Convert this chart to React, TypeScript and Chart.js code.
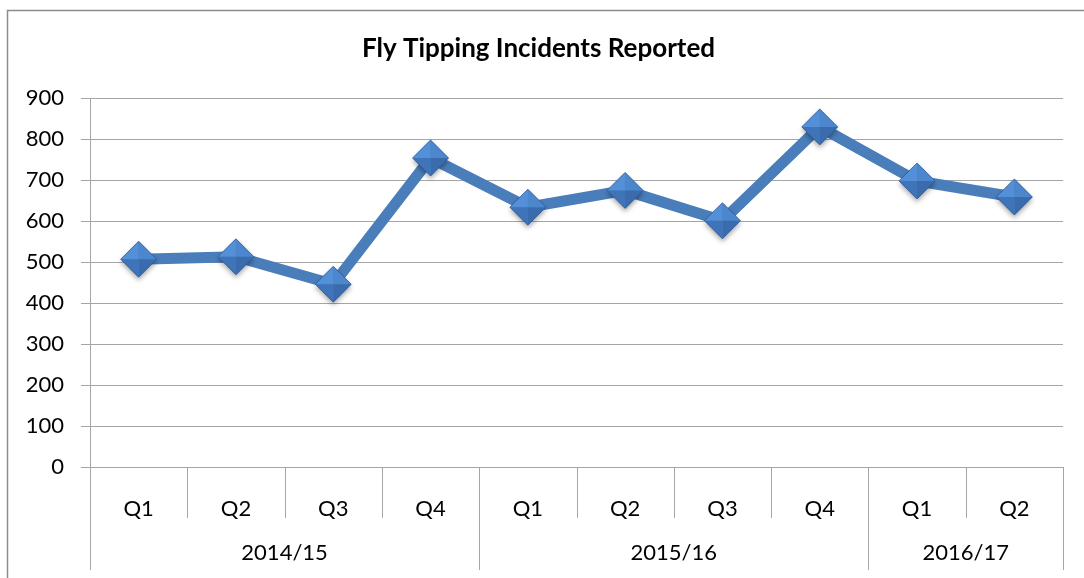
import React, { useEffect, useRef } from 'react';
import { Chart, registerables } from 'chart.js';

Chart.register(...registerables);

const quarters = ['Q1', 'Q2', 'Q3', 'Q4', 'Q1', 'Q2', 'Q3', 'Q4', 'Q1', 'Q2'];
const years = ['2014/15', '2015/16', '2016/17'];
const yearSpans = [4, 4, 2];
const incidents = [507, 513, 446, 754, 634, 675, 601, 830, 698, 659];
const yMin = 0;
const yMax = 900;
const yStep = 100;
const titleText = 'Fly Tipping Incidents Reported';

const FONT = 'Lato, "Open Sans", sans-serif';
const GRID = '#a6a6a6';
const LABEL_SIZE = 22;

const frame = {
  id: 'frame',
  beforeDraw(chart: any) {
    const { ctx, width, height } = chart;
    ctx.save();
    ctx.fillStyle = '#fff';
    ctx.fillRect(0, 0, width, height);
    ctx.strokeStyle = '#8c8c8c';
    ctx.lineWidth = 1.5;
    ctx.strokeRect(7.5, 10.5, width + 50, height + 50);
    ctx.restore();
  },
};

const groupAxis = {
  id: 'groupAxis',
  afterDraw(chart: any) {
    const { ctx } = chart;
    const x = chart.scales.x;
    const top = x.top;
    const n = quarters.length;
    const boundary = (i: number) => {
      if (i <= 0) return x.left;
      if (i >= n) return x.right;
      return (x.getPixelForValue(i - 1) + x.getPixelForValue(i)) / 2;
    };
    ctx.save();
    ctx.strokeStyle = GRID;
    ctx.lineWidth = 1;
    const yearB = new Set<number>();
    let acc = 0;
    yearB.add(0);
    yearSpans.forEach((s) => {
      acc += s;
      yearB.add(acc);
    });
    for (let i = 0; i <= n; i++) {
      const px = Math.round(boundary(i)) + 0.5;
      const bottom = yearB.has(i) ? top + 103 : top + 51;
      ctx.beginPath();
      ctx.moveTo(px, top);
      ctx.lineTo(px, bottom);
      ctx.stroke();
    }
    ctx.fillStyle = '#000';
    ctx.font = `${LABEL_SIZE}px ${FONT}`;
    ctx.textAlign = 'center';
    ctx.textBaseline = 'middle';
    let start = 0;
    years.forEach((yr, k) => {
      const end = start + yearSpans[k];
      const cx = (boundary(start) + boundary(end)) / 2;
      ctx.fillText(yr, cx, top + 86);
      start = end;
    });
    ctx.restore();
  },
};

const bevel = {
  id: 'bevel',
  afterDatasetsDraw(chart: any) {
    const { ctx } = chart;
    const meta = chart.getDatasetMeta(0);
    const r = 18;
    ctx.save();
    meta.data.forEach((pt: any) => {
      const { x, y } = pt;
      ctx.save();
      ctx.shadowColor = 'rgba(0,0,0,0.35)';
      ctx.shadowBlur = 5;
      ctx.shadowOffsetY = 3;
      ctx.fillStyle = '#4a80c4';
      ctx.beginPath();
      ctx.moveTo(x - r, y);
      ctx.lineTo(x, y - r);
      ctx.lineTo(x + r, y);
      ctx.lineTo(x, y + r);
      ctx.closePath();
      ctx.fill();
      ctx.restore();
      const facets: [number, number, number, number, string][] = [
        [x - r, y, x, y - r, '#5490d8'],
        [x, y - r, x + r, y, '#4c86cd'],
        [x + r, y, x, y + r, '#3a6cad'],
        [x, y + r, x - r, y, '#3f75b8'],
      ];
      facets.forEach(([ax, ay, bx, by, c]) => {
        ctx.fillStyle = c;
        ctx.beginPath();
        ctx.moveTo(x, y);
        ctx.lineTo(ax, ay);
        ctx.lineTo(bx, by);
        ctx.closePath();
        ctx.fill();
      });
      ctx.strokeStyle = 'rgba(40,80,140,0.6)';
      ctx.lineWidth = 1;
      ctx.beginPath();
      ctx.moveTo(x - r, y);
      ctx.lineTo(x, y - r);
      ctx.lineTo(x + r, y);
      ctx.lineTo(x, y + r);
      ctx.closePath();
      ctx.stroke();
    });
    ctx.restore();
  },
};

export default function App() {
  const ref = useRef<HTMLCanvasElement | null>(null);
  useEffect(() => {
    if (!ref.current) return;
    const chart = new Chart(ref.current, {
      type: 'line',
      data: {
        labels: quarters.map((q, i) => `${q}-${i}`),
        datasets: [
          {
            data: incidents,
            borderColor: '#4a7ebb',
            borderWidth: 11,
            pointRadius: 0,
            pointHoverRadius: 0,
            tension: 0,
            fill: false,
          },
        ],
      },
      options: {
        animation: false,
        responsive: false,
        events: [],
        layout: { padding: { left: 14, right: 21, top: 0, bottom: 0 } },
        plugins: {
          legend: { display: false },
          tooltip: { enabled: false },
          title: {
            display: true,
            text: titleText,
            color: '#000',
            font: { family: FONT, size: 26, weight: 'bold' },
            padding: { top: 33, bottom: 34 },
          },
        },
        scales: {
          x: {
            type: 'category',
            offset: true,
            grid: { display: false },
            border: { display: true, color: GRID, width: 1 },
            ticks: {
              color: '#000',
              font: { family: FONT, size: LABEL_SIZE },
              padding: 21,
              maxRotation: 0,
              autoSkip: false,
              callback: (_v: any, i: number) => quarters[i],
            },
            afterFit: (s: any) => {
              s.height = 111;
            },
          },
          y: {
            min: yMin,
            max: yMax,
            ticks: {
              stepSize: yStep,
              color: '#000',
              font: { family: FONT, size: LABEL_SIZE },
              padding: 17,
            },
            grid: { color: GRID, tickLength: 9, lineWidth: 1 },
            border: { display: true, color: GRID, width: 1 },
            afterFit: (s: any) => {
              s.width = 76;
            },
          },
        },
      },
      plugins: [frame, groupAxis, bevel],
    });
    return () => chart.destroy();
  }, []);
  return (
    <div style={{ position: 'absolute', left: 0, top: 0, width: 1084, height: 578 }}>
      <canvas ref={ref} width={1084} height={578} style={{ display: 'block' }} />
    </div>
  );
}
